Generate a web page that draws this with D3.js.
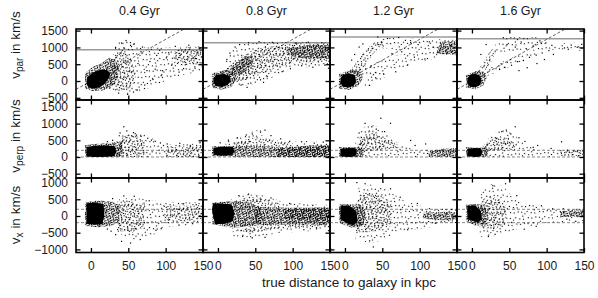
<!DOCTYPE html>
<html>
<head>
<meta charset="utf-8">
<script src="https://cdn.jsdelivr.net/npm/d3@7"></script>
<style>
  body { margin: 0; background: #fff; }
  text { font-family: "Liberation Sans", Arial, sans-serif; fill: #1a1a1a; }
</style>
</head>
<body>
<svg id="chart" width="598" height="298"></svg>
<script>
// ---- Daten (in kpc und km/s) ----
const columns = ["0.4 Gyr", "0.8 Gyr", "1.2 Gyr", "1.6 Gyr"];
const xTicks = [0, 50, 100, 150];
const parTicks = [-500, 0, 500, 1000, 1500];
const perpTicks = [-500, 0, 500, 1000, 1500];
const vxTicks = [-1000, -500, 0, 500, 1000];

// Referenzlinien
const parEscape = [930, 1140, 1310, 1260];   // durchgezogen, grau
const parSlope = [12.4, 12.4, 12.4, 12.4];   // gestrichelt: v = k * d
const perpRefs = [0, 200];
const vxRefs = [-200, 200];

// v_par: Kern (schwarz), dichte / mittlere / lockere Punktwolken, Einzelpunkte
const parCore = [
  [[-6,-90],[-3,-190],[4,-230],[12,-180],[19,-70],[24,80],[26,230],[21,330],[12,330],[3,250],[-5,120]],
  [[-6,-40],[-3,-150],[5,-175],[13,-120],[17,0],[16,140],[8,210],[-2,190],[-6,90]],
  [[-6,-50],[-3,-170],[5,-195],[12,-140],[15,0],[13,170],[5,230],[-3,180],[-6,80]],
  [[-6,-50],[-3,-165],[4,-185],[10,-130],[13,0],[11,160],[4,220],[-3,170],[-6,80]]
];
const parDense = [
  [[[-8,-220],[2,-300],[16,-280],[28,-160],[36,80],[38,380],[32,640],[24,700],[14,520],[2,420],[-8,230]]],
  [[[-8,-200],[4,-260],[18,-180],[25,60],[22,280],[10,330],[-8,230]],
   [[19,230],[27,170],[37,270],[47,520],[46,730],[37,740],[26,570],[18,420]],
   [[92,780],[108,690],[128,660],[150,690],[150,1060],[128,1080],[108,1020],[92,960]]],
  [[[-8,-220],[5,-270],[18,-150],[24,90],[21,300],[8,340],[-8,200]],
   [[122,820],[150,770],[150,1190],[128,1170]]],
  [[[-8,-200],[5,-245],[15,-130],[20,100],[17,270],[5,300],[-8,180]]]
];
const parMedium = [
  [[[24,-250],[40,-300],[55,-200],[60,150],[55,600],[45,900],[34,850],[26,500]],
   [[108,560],[128,480],[150,500],[150,1000],[132,1010],[112,880]]],
  [[[8,-60],[30,-20],[50,130],[72,340],[95,520],[120,560],[150,560],[150,1130],[118,1140],[88,1090],[60,1000],[40,870],[22,560],[6,280]]],
  [[[9,120],[20,230],[30,560],[40,860],[54,1040],[50,1180],[37,1130],[26,880],[16,590],[7,300]]],
  [[[10,180],[17,300],[27,620],[33,900],[29,1000],[22,820],[14,520],[8,300]]]
];
const parSparse = [
  [[[30,-380],[58,-380],[85,-150],[110,120],[150,300],[150,1050],[105,1000],[70,1000],[52,1230],[36,1150],[30,850]]],
  [[[28,-180],[50,-80],[75,120],[100,380],[150,420],[150,1160],[100,1170],[60,1150],[35,1120],[18,900],[8,520]]],
  [[[40,1000],[70,920],[105,880],[150,760],[150,1230],[100,1260],[60,1280],[40,1220]],
   [[18,90],[60,300],[100,560],[150,840],[150,1000],[100,900],[60,720],[25,420]],
   [[25,-200],[45,0],[60,200],[40,300],[28,150]]],
  [[[15,100],[50,420],[90,820],[120,1000],[115,1120],[85,960],[45,620],[15,300]],
   [[115,880],[150,900],[150,1150],[118,1120]],
   [[30,850],[60,900],[100,1100],[90,1300],[50,1310],[32,1150]]]
];
const parPts = [
  [[41,1130],[47,1205],[53,1060],[44,985],[57,-330],[49,-395],[62,-270],[37,-360],[72,-120],[83,45],[94,160],
   [67,870],[88,760],[101,690],[79,580],[96,305],[118,265],[124,370],[139,420],[146,980],[113,1030],[131,1065],
   [143,860],[121,800],[137,690],[108,470],[86,350],[63,520],[75,310],[92,915],[104,840],[69,1010],[58,1105],[33,1000]],
  [[31,-120],[44,-60],[57,35],[66,130],[12,640],[16,830],[23,1010],[29,1085],[41,1140],[55,1170],[73,1150],
   [104,1130],[121,1155],[139,1140],[86,280],[97,365],[112,455],[127,410],[143,470],[148,380],[61,-40],[39,-190]],
  [[44,1310],[57,1265],[72,1295],[13,790],[19,1010],[9,620],[33,-130],[41,95],[52,205],[68,275],[84,480],[93,710],
   [107,655],[118,1005],[131,945],[142,1065],[63,815],[76,870],[88,1145],[98,1085],[113,1165],[24,1105],[35,455],[81,1210]],
  [[37,345],[44,405],[53,470],[61,575],[69,610],[77,705],[86,770],[94,835],[103,905],[47,1085],[58,1010],[66,1160],
   [73,955],[82,1045],[91,1195],[99,1135],[107,1060],[124,985],[133,1070],[141,1005],[147,1090],[129,945],[12,790],
   [19,1085],[63,310],[74,395],[87,520],[97,640],[109,790],[42,1290]]
];

// v_perp
const perpCore = [
  [[-6,20],[5,0],[20,10],[31,30],[34,150],[32,320],[20,345],[5,335],[-6,300]],
  [[-6,60],[5,40],[18,50],[22,150],[20,300],[5,310],[-6,280]],
  [[-6,20],[5,0],[14,20],[16,150],[14,260],[5,270],[-6,250]],
  [[-6,20],[5,0],[12,20],[14,150],[12,260],[4,270],[-6,250]]
];
const perpDense = [
  [[[-8,0],[36,0],[42,100],[42,470],[33,440],[20,410],[5,390],[-8,350]]],
  [[[-8,30],[40,0],[80,0],[150,0],[150,360],[120,340],[90,290],[60,320],[30,330],[-8,320]],
   [[80,0],[150,0],[150,330],[110,300],[80,260]]],
  [[[-8,0],[24,0],[27,150],[24,290],[-8,300]],
   [[112,0],[150,0],[150,260],[130,250],[112,170]]],
  [[[-8,0],[20,0],[22,150],[20,280],[-8,290]]]
];
const perpMedium = [
  [[[35,0],[72,0],[72,450],[62,620],[50,680],[40,560]],
   [[100,0],[150,0],[150,320],[125,330],[100,280]]],
  [[[20,250],[45,300],[80,300],[100,280],[100,420],[75,520],[55,600],[35,520],[20,400]]],
  [[[14,150],[40,200],[60,250],[75,300],[65,450],[45,650],[32,780],[20,600]]],
  [[[14,150],[30,200],[55,250],[60,350],[48,560],[35,620],[22,480],[14,300]],
   [[118,30],[150,20],[150,220],[118,210]]]
];
const perpSparse = [
  [[[30,0],[150,0],[150,420],[112,360],[90,460],[72,700],[52,760],[36,660]]],
  [[[10,300],[40,400],[60,650],[70,780],[50,800],[30,620],[10,450]],
   [[100,300],[150,330],[150,470],[100,480]]],
  [[[14,0],[150,0],[150,260],[100,240],[75,350],[55,700],[40,960],[25,900],[14,500]]],
  [[[14,0],[150,0],[150,240],[90,230],[70,400],[55,700],[40,820],[25,650],[14,300]]]
];
const perpPts = [
  [[44,905],[57,730],[61,655],[48,780],[67,615],[81,505],[93,420],[102,390],[119,410],[133,345],[146,430],
   [149,505],[76,560],[86,470],[39,720],[29,500],[22,460]],
  [[63,805],[57,745],[46,690],[71,640],[84,545],[96,470],[112,455],[129,415],[141,445],[14,505],[3,425],[26,575],[38,660]],
  [[48,1160],[61,1010],[27,1005],[36,905],[42,835],[53,760],[19,720],[88,495],[108,390],[94,345],[31,540],[22,415]],
  [[58,905],[46,805],[40,760],[52,690],[63,575],[71,465],[88,345],[120,455],[128,205],[106,255],[82,290]]
];

// v_x
const vxCore = [
  [[-6,-230],[5,-260],[15,-250],[18,0],[17,350],[5,400],[-6,380]],
  [[-4,-250],[10,-230],[20,-150],[22,100],[18,350],[-6,380],[-8,200]],
  [[-6,300],[5,320],[15,150],[17,-150],[12,-280],[5,-250],[-6,-100]],
  [[-6,300],[4,320],[12,150],[13,-100],[8,-200],[-6,-100]]
];
const vxDense = [
  [[[-8,-300],[10,-340],[28,-300],[38,-150],[38,320],[28,430],[10,460],[-8,420]]],
  [[[-8,-250],[20,-350],[50,-300],[60,-100],[55,300],[40,400],[20,450],[-8,400]],
   [[50,-280],[100,-250],[150,-260],[150,260],[100,250],[50,280]],
   [[90,-100],[150,-150],[150,230],[90,200]]],
  [[[-8,350],[20,350],[28,100],[24,-300],[10,-360],[-8,-200]],
   [[105,-80],[130,-130],[150,-120],[150,120],[130,130],[105,100]]],
  [[[-8,350],[15,350],[22,100],[18,-250],[5,-300],[-8,-150]],
   [[118,-20],[150,-30],[150,170],[118,150]]]
];
const vxMedium = [
  [[[35,-450],[55,-500],[72,-300],[72,350],[55,450],[35,430]],
   [[98,-150],[150,-120],[150,320],[98,300]]],
  [[[20,-450],[50,-500],[80,-350],[150,-300],[150,-200],[80,-250],[40,-350]],
   [[20,400],[40,580],[65,520],[85,330],[55,350]]],
  [[[15,-500],[40,-450],[62,-300],[62,400],[45,650],[25,700],[15,400]]],
  [[[12,-400],[30,-400],[45,-250],[45,350],[32,550],[18,600],[12,350]]]
];
const vxSparse = [
  [[[35,-500],[55,-720],[80,-620],[100,-320],[150,-260],[150,400],[100,420],[65,520],[38,540]]],
  [[[20,-600],[45,-680],[80,-520],[150,-420],[150,330],[90,400],[60,620],[35,660],[18,500]]],
  [[[14,-750],[40,-800],[70,-500],[110,-350],[150,-200],[150,200],[110,250],[80,450],[55,800],[35,950],[18,850]]],
  [[[10,-620],[35,-600],[60,-400],[100,-200],[150,-150],[150,250],[100,250],[60,450],[42,900],[25,950],[12,700]]]
];
const vxPts = [
  [[41,-760],[53,-810],[66,-705],[27,-455],[33,-560],[44,600],[58,590],[29,520],[22,-390],[87,-430],[94,-380],
   [118,-270],[136,-230],[124,365],[141,340],[78,455]],
  [[33,-610],[46,-655],[63,-640],[28,610],[41,655],[52,600],[71,540],[115,-410],[132,-385],[148,-440],[96,375],[127,315]],
  [[38,-925],[51,1010],[61,815],[16,1000],[27,965],[33,-745],[84,-410],[97,375],[121,-215],[143,195],[74,560]],
  [[50,1110],[45,965],[28,905],[22,-615],[31,-550],[70,-395],[86,-310],[93,305],[108,215],[127,-95],[139,-160],[60,610]]
];

// ---- Layout ----
const svg = d3.select("#chart");
const colLeft = [76, 203, 330, 457];
const panelW = 127;

const rows = [
  { top: 29,  bottom: 100,   domain: [-565, 1548],  ticks: parTicks,
    core: parCore,  dense: parDense,  medium: parMedium,  sparse: parSparse,  pts: parPts,  sub: "par",  labelY: 45 },
  { top: 100, bottom: 178,   domain: [-629, 1707],  ticks: perpTicks,
    core: perpCore, dense: perpDense, medium: perpMedium, sparse: perpSparse, pts: perpPts, sub: "perp", labelY: 136 },
  { top: 178, bottom: 252.5, domain: [-1093, 1137], ticks: vxTicks,
    core: vxCore,   dense: vxDense,   medium: vxMedium,   sparse: vxSparse,   pts: vxPts,   sub: "x",    labelY: 215 }
];

const defs = svg.append("defs");
defs.append("filter").attr("id", "softCore")
  .attr("x", "-20%").attr("y", "-20%").attr("width", "140%").attr("height", "140%")
  .append("feGaussianBlur").attr("stdDeviation", 0.6);

// Punktraster für die Dichtestufen (Stil, keine Daten), gedreht gegen sichtbare Zeilen
const stipple = {
  dense: { size: 8, rot: 27, dots: [[0,0],[2,0],[5,0],[7,1],[1,1],[3,2],[6,2],[0,3],[4,3],[2,4],[5,4],[7,4],
                           [1,5],[6,5],[3,6],[4,6],[0,7],[2,7],[5,7],[7,6],[4,1],[6,3]] },
  medium: { size: 11, rot: -33, dots: [[0,1],[4,0],[8,2],[2,4],[6,3],[10,5],[1,7],[5,6],[9,8],[3,9],[7,10],
                             [0,10],[4,8],[8,6],[10,1],[6,0]] },
  sparse: { size: 13, rot: 61, dots: [[1,2],[7,0],[11,5],[4,7],[9,10],[0,11],[6,4],[3,12],[12,8]] }
};
Object.entries(stipple).forEach(([name, s]) => {
  const p = defs.append("pattern").attr("id", `pat-${name}`)
    .attr("patternUnits", "userSpaceOnUse")
    .attr("patternTransform", `rotate(${s.rot})`)
    .attr("width", s.size).attr("height", s.size);
  p.selectAll("rect").data(s.dots).join("rect")
    .attr("x", d => d[0]).attr("y", d => d[1])
    .attr("width", 1.1).attr("height", 1.1)
    .style("fill", "#000");
});

const lineGen = (x, y) => d3.line().x(d => x(d[0])).y(d => y(d[1]));

rows.forEach((row, r) => {
  const y = d3.scaleLinear().domain(row.domain).range([row.bottom, row.top]);

  columns.forEach((col, c) => {
    const x = d3.scaleLinear().domain([-20, 150]).range([colLeft[c], colLeft[c] + panelW]);
    const clipId = `clip-${r}-${c}`;
    defs.append("clipPath").attr("id", clipId)
      .append("rect")
      .attr("x", colLeft[c]).attr("y", row.top)
      .attr("width", panelW).attr("height", row.bottom - row.top);

    const g = svg.append("g").attr("clip-path", `url(#${clipId})`);
    const path = lineGen(x, y);

    // Referenzlinien
    if (r === 0) {
      g.append("line")
        .attr("x1", x(-20)).attr("x2", x(150))
        .attr("y1", y(parEscape[c])).attr("y2", y(parEscape[c]))
        .style("stroke", "#9a9a9a").style("stroke-width", 1.4);
      g.append("line")
        .attr("x1", x(-20)).attr("y1", y(parSlope[c] * -20))
        .attr("x2", x(150)).attr("y2", y(parSlope[c] * 150))
        .style("stroke", "#666").style("stroke-width", 1)
        .style("stroke-dasharray", "3 2");
    } else {
      const refs = r === 1 ? perpRefs : vxRefs;
      refs.forEach(v => {
        g.append("line")
          .attr("x1", x(-20)).attr("x2", x(150))
          .attr("y1", y(v)).attr("y2", y(v))
          .style("stroke", "#888").style("stroke-width", 1)
          .style("stroke-dasharray", "3 2");
      });
    }

    // Punktwolken nach Dichte
    ["sparse", "medium", "dense"].forEach(level => {
      g.selectAll(`.${level}`).data(row[level][c]).join("path")
        .attr("class", level)
        .attr("d", d => path(d) + "Z")
        .style("fill", `url(#pat-${level})`);
    });

    // Kern
    g.append("path")
      .attr("d", path(row.core[c]) + "Z")
      .style("fill", "#000")
      .attr("filter", "url(#softCore)");

    // Einzelpunkte
    g.selectAll(".pt").data(row.pts[c]).join("rect")
      .attr("class", "pt")
      .attr("x", d => x(d[0]) - 0.6)
      .attr("y", d => y(d[1]) - 0.6)
      .attr("width", 1.2).attr("height", 1.2)
      .style("fill", "#000");

    // Achsen mit Innenticks
    const tickLen = -4.5;
    const left = svg.append("g").attr("transform", `translate(${colLeft[c]},0)`)
      .call(d3.axisLeft(y).tickValues(row.ticks).tickSize(tickLen).tickPadding(8)
        .tickFormat(c === 0 ? d3.format("d") : () => ""));
    const right = svg.append("g").attr("transform", `translate(${colLeft[c] + panelW},0)`)
      .call(d3.axisRight(y).tickValues(row.ticks).tickSize(tickLen).tickFormat(() => ""));
    const top = svg.append("g").attr("transform", `translate(0,${row.top})`)
      .call(d3.axisTop(x).tickValues(xTicks).tickSize(tickLen).tickFormat(() => ""));
    const bottom = svg.append("g").attr("transform", `translate(0,${row.bottom})`)
      .call(d3.axisBottom(x).tickValues(xTicks).tickSize(tickLen).tickPadding(9)
        .tickFormat(r === 2 ? d3.format("d") : () => ""));

    [left, right, top, bottom].forEach(a => {
      a.select(".domain").remove();
      a.selectAll(".tick line").style("stroke", "#000").style("stroke-width", 1.3);
      a.selectAll(".tick text").style("font-size", "12px")
        .style("font-family", "'Liberation Sans', Arial, sans-serif").style("fill", "#1a1a1a");
    });

    // Rahmen
    svg.append("rect")
      .attr("x", colLeft[c]).attr("y", row.top)
      .attr("width", panelW).attr("height", row.bottom - row.top)
      .style("fill", "none").style("stroke", "#000").style("stroke-width", 1.6);

    if (r === 0) {
      svg.append("text")
        .attr("x", colLeft[c] + panelW / 2).attr("y", 15)
        .attr("text-anchor", "middle")
        .style("font-size", "12.5px")
        .text(col);
    }
  });

  // y-Achsentitel mit Index
  const t = svg.append("text")
    .attr("transform", `translate(20,${row.labelY}) rotate(-90)`)
    .attr("text-anchor", "middle")
    .style("font-size", "13.5px");
  t.append("tspan").text("v");
  t.append("tspan").attr("dy", 3).style("font-size", "10px").text(row.sub);
  t.append("tspan").attr("dy", -3).text(" in km/s");
});

// x-Achsentitel
svg.append("text")
  .attr("x", 349).attr("y", 287)
  .attr("text-anchor", "middle")
  .style("font-size", "13.5px")
  .text("true distance to galaxy in kpc");
</script>
</body>
</html>
